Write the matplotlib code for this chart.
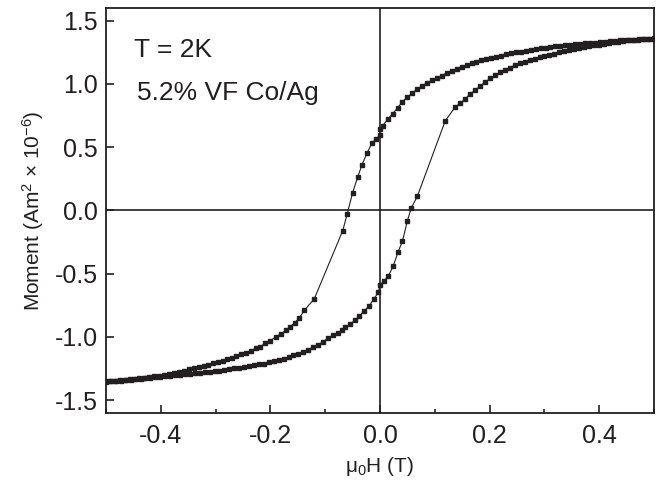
import matplotlib
matplotlib.use('Agg')
import matplotlib.pyplot as plt
from matplotlib.ticker import MultipleLocator

plt.rcParams['font.family'] = ['Liberation Sans', 'DejaVu Sans']
plt.rcParams['mathtext.fontset'] = 'custom'
plt.rcParams['mathtext.rm'] = 'Liberation Sans'
plt.rcParams['mathtext.it'] = 'Liberation Sans'

# descending branch (field swept from +0.5 T to -0.5 T)
h_down = [0.500, 0.491, 0.482, 0.473, 0.464, 0.455, 0.446, 0.437, 0.428, 0.419,
          0.410, 0.401, 0.392, 0.383, 0.374, 0.365, 0.356, 0.347, 0.338, 0.329,
          0.320, 0.311, 0.302, 0.293, 0.284, 0.275, 0.266, 0.257, 0.248, 0.239,
          0.230, 0.221, 0.212, 0.203, 0.194, 0.185, 0.176, 0.167, 0.158, 0.149,
          0.140, 0.131, 0.122, 0.113, 0.104, 0.095, 0.086, 0.077, 0.068, 0.059,
          0.050, 0.041, 0.032, 0.023, 0.014, 0.005, 0.000, 0.000, -0.007, -0.015,
          -0.024, -0.033, -0.041, -0.050, -0.060, -0.068, -0.120, -0.138, -0.148, -0.156,
          -0.164, -0.172, -0.181, -0.190, -0.200, -0.209, -0.219, -0.227, -0.236, -0.245,
          -0.253, -0.262, -0.270, -0.279, -0.287, -0.296, -0.304, -0.313, -0.322, -0.331,
          -0.340, -0.349, -0.358, -0.367, -0.376, -0.385, -0.394, -0.403, -0.412, -0.421,
          -0.430, -0.439, -0.448, -0.457, -0.466, -0.475, -0.484, -0.493, -0.500]
m_down = [1.360, 1.357, 1.354, 1.352, 1.350, 1.349, 1.346, 1.343, 1.340, 1.336,
          1.333, 1.330, 1.327, 1.324, 1.321, 1.318, 1.314, 1.310, 1.306, 1.302,
          1.298, 1.292, 1.287, 1.282, 1.275, 1.268, 1.262, 1.255, 1.249, 1.242,
          1.234, 1.224, 1.216, 1.204, 1.196, 1.186, 1.173, 1.162, 1.150, 1.136,
          1.120, 1.105, 1.089, 1.065, 1.048, 1.028, 1.008, 0.986, 0.960, 0.927,
          0.895, 0.860, 0.810, 0.765, 0.720, 0.670, 0.640, 0.595, 0.566, 0.530,
          0.450, 0.360, 0.260, 0.140, -0.030, -0.160, -0.700, -0.790, -0.855, -0.889,
          -0.920, -0.950, -0.976, -1.000, -1.030, -1.050, -1.078, -1.092, -1.110, -1.126,
          -1.139, -1.153, -1.165, -1.177, -1.189, -1.199, -1.209, -1.220, -1.230, -1.240,
          -1.249, -1.258, -1.267, -1.276, -1.284, -1.292, -1.299, -1.306, -1.312, -1.318,
          -1.323, -1.328, -1.333, -1.337, -1.341, -1.344, -1.347, -1.350, -1.352]

# ascending branch (field swept from -0.5 T back to +0.5 T)
h_up = [-0.500, -0.491, -0.482, -0.473, -0.464, -0.455, -0.446, -0.437, -0.428, -0.419,
        -0.410, -0.401, -0.392, -0.383, -0.374, -0.365, -0.356, -0.347, -0.338, -0.329,
        -0.320, -0.311, -0.302, -0.293, -0.284, -0.275, -0.266, -0.257, -0.248, -0.239,
        -0.230, -0.221, -0.212, -0.203, -0.194, -0.185, -0.176, -0.167, -0.158, -0.149,
        -0.140, -0.131, -0.122, -0.113, -0.104, -0.095, -0.086, -0.077, -0.070, -0.063,
        -0.055, -0.046, -0.038, -0.029, -0.020, -0.011, -0.003, 0.000, 0.007, 0.015,
        0.024, 0.033, 0.041, 0.050, 0.057, 0.068, 0.119, 0.137, 0.146, 0.155,
        0.164, 0.174, 0.183, 0.192, 0.201, 0.210, 0.219, 0.228, 0.237, 0.246,
        0.255, 0.264, 0.273, 0.282, 0.291, 0.300, 0.309, 0.318, 0.327, 0.336,
        0.345, 0.354, 0.363, 0.372, 0.381, 0.390, 0.399, 0.408, 0.417, 0.426,
        0.435, 0.444, 0.453, 0.462, 0.471, 0.480, 0.489, 0.498]
m_up = [-1.356, -1.353, -1.350, -1.347, -1.344, -1.341, -1.337, -1.333, -1.329, -1.325,
        -1.321, -1.317, -1.313, -1.309, -1.305, -1.301, -1.297, -1.293, -1.289, -1.285,
        -1.281, -1.277, -1.272, -1.267, -1.262, -1.256, -1.250, -1.244, -1.238, -1.232,
        -1.225, -1.218, -1.211, -1.203, -1.194, -1.184, -1.173, -1.160, -1.147, -1.133,
        -1.117, -1.101, -1.081, -1.062, -1.040, -1.010, -0.988, -0.972, -0.950, -0.926,
        -0.900, -0.870, -0.837, -0.795, -0.757, -0.700, -0.647, -0.590, -0.560, -0.520,
        -0.442, -0.328, -0.242, -0.081, 0.019, 0.110, 0.708, 0.816, 0.845, 0.880,
        0.918, 0.953, 0.984, 1.016, 1.043, 1.068, 1.090, 1.110, 1.129, 1.146,
        1.162, 1.176, 1.189, 1.199, 1.209, 1.218, 1.229, 1.240, 1.251, 1.260,
        1.269, 1.278, 1.286, 1.292, 1.298, 1.305, 1.311, 1.317, 1.323, 1.329,
        1.334, 1.339, 1.343, 1.347, 1.350, 1.353, 1.355, 1.357]

ink = '#231f20'

fig = plt.figure(figsize=(6.6, 4.84), dpi=100)
ax = fig.add_axes([0.1606, 0.1473, 0.8304, 0.8362])

for h, m in [(h_down, m_down), (h_up, m_up)]:
    ax.plot(h, m, color=ink, lw=0.8, marker='s', ms=2.6, mec=ink, mfc=ink)

ax.axhline(0, color=ink, lw=1.2, zorder=0)
ax.axvline(0, color=ink, lw=1.2, zorder=0)

ax.set_xlim(-0.5, 0.5)
ax.set_ylim(-1.6, 1.6)
ax.xaxis.set_minor_locator(MultipleLocator(0.1))
ax.set_xticks([-0.4, -0.2, 0.0, 0.2, 0.4])
ax.set_xticklabels(['-0.4', '-0.2', '0.0', '0.2', '0.4'])
ax.set_yticks([-1.5, -1.0, -0.5, 0.0, 0.5, 1.0, 1.5])
ax.set_yticklabels(['-1.5', '-1.0', '-0.5', '0.0', '0.5', '1.0', '1.5'])

ax.tick_params(which='both', direction='in', color=ink, width=1.2, labelcolor=ink)
ax.tick_params(which='major', length=6, labelsize=18)
ax.tick_params(which='minor', length=3)
ax.tick_params(axis='x', pad=8)
ax.tick_params(axis='y', pad=6)
for s in ax.spines.values():
    s.set_linewidth(1.3)
    s.set_color(ink)

ax.set_xlabel(r'$\mathregular{\mu_0}$H (T)', fontsize=15, color=ink, labelpad=5)
ax.set_ylabel(r'Moment (Am$\mathregular{^2}$ $\times$ 10$\mathregular{^{-6}}$)',
              fontsize=15, color=ink, labelpad=6)

ax.text(0.052, 0.895, 'T = 2K', transform=ax.transAxes, fontsize=19, color=ink, va='center')
ax.text(0.056, 0.79, '5.2% VF Co/Ag', transform=ax.transAxes, fontsize=19, color=ink, va='center')

fig.savefig('out.png', dpi=100)
